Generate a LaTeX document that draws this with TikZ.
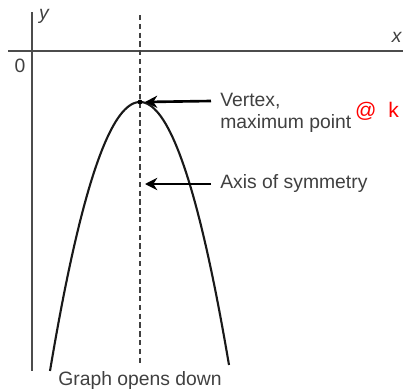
\documentclass[tikz,border=0pt]{standalone}
\usepackage{fontspec}
\setmainfont{Liberation Sans}
\usepackage{tikz}
\usetikzlibrary{arrows.meta, positioning, calc}

\begin{document}
\begin{tikzpicture}[
  x=0.02cm, y=-0.02cm,
  axis/.style={draw=black!70, line width=1.1pt},
  curve/.style={draw=black!90, line width=1.2pt},
  sym/.style={draw=black!75, dashed, dash pattern=on 3pt off 2pt, line width=0.7pt},
  lbl/.style={font=\fontsize{11}{12.5}\selectfont, text=black!75, inner sep=0pt, align=left},
  pointer/.style={draw=black, line width=1.5pt, -{Stealth[length=7pt, width=7pt]}},
  note/.style={font=\fontsize{12}{12}\selectfont, text=red, inner sep=0pt}
]
  \useasboundingbox (0,0) rectangle (403,389);

  % axes
  \draw[axis] (8,51) -- (403,51);
  \draw[axis] (32,12) -- (32,371);
  \node[lbl, font=\fontsize{11}{12}\selectfont\itshape] (ylab) at (44,16) {y};
  \node[lbl, font=\fontsize{11}{12}\selectfont\itshape, anchor=east] (xlab) at (402,37) {x};
  \node[lbl] (zero) at (20,66) {0};

  % axis of symmetry and parabola
  \draw[sym] (140,15) -- (140,365);
  \draw[curve] plot[domain=-90:89, samples=80] ({140+\x},{102+0.0332*\x*\x});
  \coordinate (vertex) at (140,102);
  \fill[black] (vertex) circle (2.4);
  \coordinate (axispt) at (145,184);

  % labels
  \node[lbl, anchor=west] (vtx) at (220,113) {Vertex,\\maximum point};
  \node[lbl, anchor=west] (sym) at (220,184) {Axis of symmetry};
  \node[lbl] (opens) at (140,381) {Graph opens down};
  \node[note] (mark) at (377,111) {@\ \ k};

  \draw[pointer] ($(vtx.west)+(-9,-12)$) -- ($(vertex)+(5,0)$);
  \draw[pointer] ($(sym.west)+(-9,0)$) -- (axispt);
\end{tikzpicture}
\end{document}
